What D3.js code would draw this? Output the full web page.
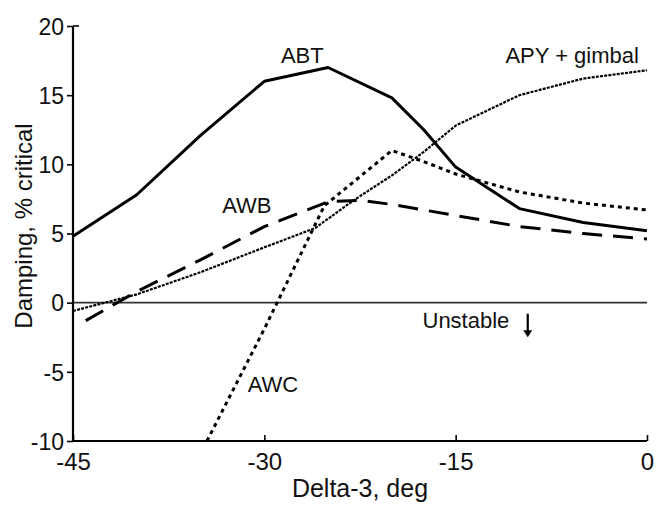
<!DOCTYPE html>
<html>
<head>
<meta charset="utf-8">
<script src="https://cdn.jsdelivr.net/npm/d3@7"></script>
<style>
  body { margin: 0; background: #fff; }
  svg text { font-family: "Liberation Sans", Arial, Helvetica, sans-serif; fill: #111; }
</style>
</head>
<body>
<div id="chart"></div>
<script>
// delta-3 (deg) vs damping (% critical)
const abtData = [[-45, 4.8], [-40, 7.8], [-35, 12.1], [-30, 16], [-25, 17], [-20, 14.8],
    [-17.5, 12.5], [-15, 9.8], [-10, 6.8], [-5, 5.8], [0, 5.2]];
const apyData = [[-45, -0.6], [-40, 0.6], [-35, 2.2], [-30, 4.0], [-26, 5.4], [-23, 7.4],
    [-20, 9.2], [-17.5, 10.9], [-15, 12.8], [-10, 15], [-5, 16.2], [0, 16.8]];
const awbData = [[-44, -1.3], [-40, 0.8], [-35, 3.1], [-30, 5.5], [-25, 7.3], [-22.5, 7.4],
    [-20, 7.1], [-15, 6.3], [-10, 5.5], [-5, 5.0], [0, 4.6]];
const awcData = [[-34.5, -10], [-30, -1.9], [-25.3, 7.0], [-20, 11], [-17.5, 10.2],
    [-15, 9.3], [-10, 8.0], [-5, 7.2], [0, 6.7]];

const xTicks = [-45, -30, -15, 0];
const yTicks = [-10, -5, 0, 5, 10, 15, 20];

// curve labels, placed in data units
const labels = [
    { text: "ABT", x: -28.7, y: 17.3 },
    { text: "APY + gimbal", x: -11.1, y: 17.3 },
    { text: "AWB", x: -33.3, y: 6.5 },
    { text: "AWC", x: -31.3, y: -6.45 },
    { text: "Unstable", x: -17.6, y: -1.85 }
];
const arrowX = -9.35;

const width = 657, height = 505;

const svg = d3.select("#chart").append("svg")
    .attr("width", width)
    .attr("height", height);

const x = d3.scaleLinear().domain([-45, 0]).range([73, 647]);
const y = d3.scaleLinear().domain([-10, 20]).range([441, 26]);

const line = d3.line()
    .x(d => x(d[0]))
    .y(d => y(d[1]));

// plain hyphen minus like the original figure
const fmt = d => String(d);

// zero line
svg.append("line")
    .attr("x1", x(-45)).attr("x2", x(0))
    .attr("y1", y(0)).attr("y2", y(0))
    .attr("stroke", "#333")
    .attr("stroke-width", 1.6);

// axes
const yAxis = svg.append("g")
    .attr("transform", `translate(${x(-45)},0)`)
    .call(d3.axisLeft(y).tickValues(yTicks).tickFormat(fmt).tickSize(6).tickPadding(3));
yAxis.select(".domain").attr("d", `M0,${y(20)}V${y(-10)}`).attr("stroke-width", 2.2);
yAxis.selectAll(".tick line").attr("stroke-width", 1.6);
yAxis.selectAll(".tick text").style("font-size", "23px").attr("dy", "0.36em");
// the top tick points inward
yAxis.append("line")
    .attr("x1", 0).attr("x2", 6)
    .attr("y1", y(20)).attr("y2", y(20))
    .attr("stroke", "#000").attr("stroke-width", 1.6);

const xAxis = svg.append("g")
    .attr("transform", `translate(0,${y(-10)})`)
    .call(d3.axisBottom(x).tickValues(xTicks).tickFormat(fmt).tickSize(0).tickPadding(12));
xAxis.select(".domain").attr("d", `M${x(-45)},0H${x(0)}`).attr("stroke-width", 2.2);
xAxis.selectAll(".tick text").style("font-size", "24px").attr("dy", "0.71em");
xAxis.selectAll(".tick").append("line")
    .attr("y1", 0).attr("y2", -6)
    .attr("stroke", "#000").attr("stroke-width", 1.6);

// curves
svg.append("path").datum(abtData)
    .attr("d", line).attr("fill", "none")
    .attr("stroke", "#000").attr("stroke-width", 3)
    .attr("stroke-linejoin", "round");

svg.append("path").datum(apyData)
    .attr("d", line).attr("fill", "none")
    .attr("stroke", "#000").attr("stroke-width", 2.2)
    .attr("stroke-dasharray", "3,1.2");

svg.append("path").datum(awbData)
    .attr("d", line).attr("fill", "none")
    .attr("stroke", "#000").attr("stroke-width", 3)
    .attr("stroke-dasharray", "20,11");

svg.append("path").datum(awcData)
    .attr("d", line).attr("fill", "none")
    .attr("stroke", "#000").attr("stroke-width", 3)
    .attr("stroke-dasharray", "4,4");

// labels
svg.selectAll("text.curve-label")
    .data(labels)
    .enter()
    .append("text")
    .attr("class", "curve-label")
    .attr("x", d => x(d.x))
    .attr("y", d => y(d.y))
    .style("font-size", "22px")
    .text(d => d.text);

// unstable arrow
svg.append("line")
    .attr("x1", x(arrowX)).attr("x2", x(arrowX))
    .attr("y1", y(-0.8)).attr("y2", y(-2.1))
    .attr("stroke", "#000").attr("stroke-width", 2.2);
svg.append("path")
    .attr("d", `M${x(arrowX) - 4.5},${y(-2.0)}L${x(arrowX) + 4.5},${y(-2.0)}L${x(arrowX)},${y(-2.5)}Z`)
    .attr("fill", "#000");

// axis titles
svg.append("text")
    .attr("x", (x(-45) + x(0)) / 2)
    .attr("y", 497)
    .attr("text-anchor", "middle")
    .style("font-size", "25px")
    .text("Delta-3, deg");

svg.append("text")
    .attr("transform", `translate(32,${226}) rotate(-90)`)
    .attr("text-anchor", "middle")
    .style("font-size", "24px")
    .text("Damping, % critical");
</script>
</body>
</html>
